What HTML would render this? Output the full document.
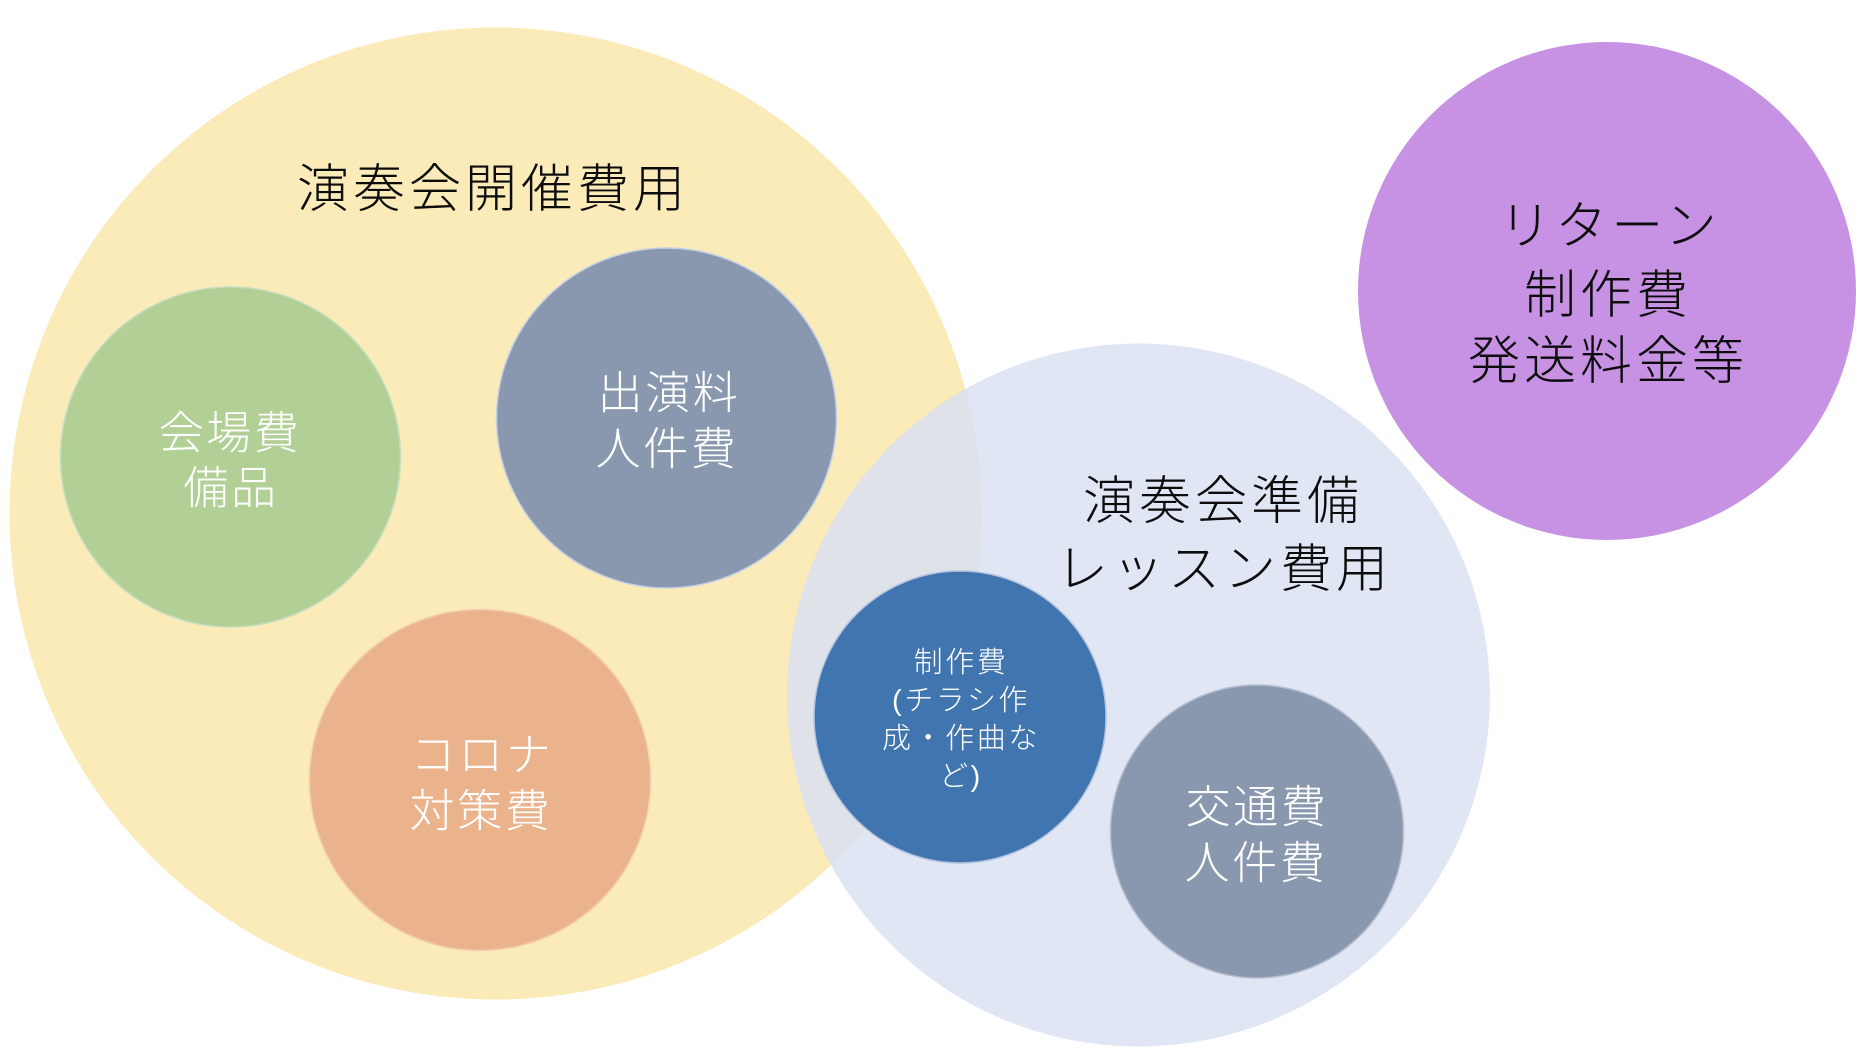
<!DOCTYPE html>
<html lang="ja">
<head>
<meta charset="utf-8">
<style>
html,body{margin:0;padding:0;background:#fff;width:1874px;height:1058px;overflow:hidden}
svg{display:block}
text{font-family:"Liberation Sans","Noto Sans CJK JP",sans-serif;font-weight:300;text-anchor:middle;dominant-baseline:central}
.t{font-size:52px;letter-spacing:4px;fill:#0c0c0c}
.w{font-size:45px;letter-spacing:2.6px;fill:#fff}
.s{font-size:29px;letter-spacing:2.6px;fill:#fff}
</style>
</head>
<body>
<svg width="1874" height="1058" viewBox="0 0 1874 1058" xmlns="http://www.w3.org/2000/svg">
<defs><clipPath id="c"><circle cx="495.5" cy="513.5" r="486"/></clipPath></defs>
<circle cx="495.5" cy="513.5" r="486" fill="#FBEBB8"/>
<circle cx="1138.5" cy="695" r="351.5" fill="#E1E6F5"/>
<circle cx="1138.5" cy="695" r="351.5" fill="#DFE2E9" clip-path="url(#c)"/>
<circle cx="1607" cy="291" r="249" fill="#C792E4"/>
<circle cx="230.5" cy="457" r="170" fill="#B2CF95" stroke="#C5DDC0" stroke-width="1.5"/>
<circle cx="666.5" cy="418" r="170" fill="#8A98AF" stroke="#C5D0E6" stroke-width="1.5"/>
<circle cx="480" cy="780" r="170.5" fill="#EBB38B" stroke="#F2CDB0" stroke-width="1.5"/>
<circle cx="960" cy="717" r="146" fill="#4175B0" stroke="#B5C4E0" stroke-width="1.5"/>
<circle cx="1257" cy="831.5" r="146.5" fill="#8A98AF" stroke="#B5BECF" stroke-width="1.5"/>
<text class="t" x="493" y="190">演奏会開催費用</text>
<text class="w" x="230" y="433">会場費</text>
<text class="w" x="231" y="488">備品</text>
<text class="w" x="669" y="393">出演料</text>
<text class="w" x="667" y="449">人件費</text>
<text class="w" x="482" y="755">コロナ</text>
<text class="w" x="481" y="811">対策費</text>
<text class="t" x="1223" y="502">演奏会準備</text>
<text class="t" x="1224" y="570">レッスン費用</text>
<text class="s" x="961" y="663">制作費</text>
<text class="s" x="961" y="701">(チラシ作</text>
<text class="s" x="961" y="739">成・作曲な</text>
<text class="s" x="961" y="777">ど)</text>
<text class="w" x="1257" y="807">交通費</text>
<text class="w" x="1256" y="863">人件費</text>
<text class="t" x="1610" y="227">リターン</text>
<text class="t" x="1608" y="296">制作費</text>
<text class="t" x="1608" y="362">発送料金等</text>
</svg>
</body>
</html>
